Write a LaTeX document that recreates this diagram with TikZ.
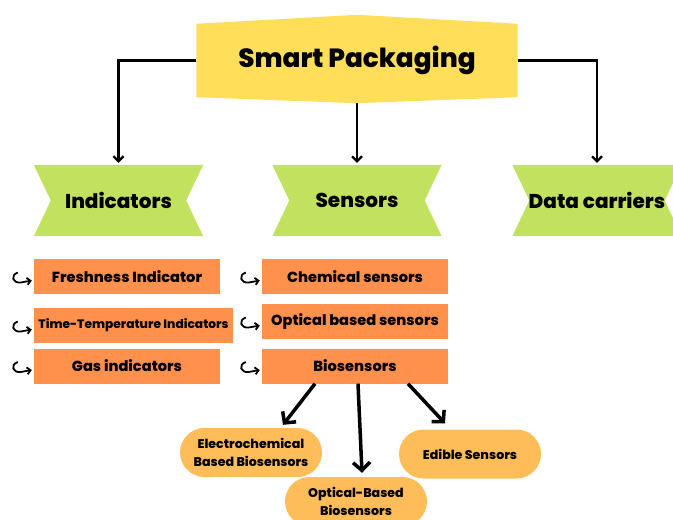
\documentclass[tikz,border=0pt]{standalone}
\usepackage{fontspec}
\setmainfont{Poppins}[BoldFont={Poppins ExtraBold}]
\usetikzlibrary{arrows.meta,backgrounds,shapes.misc}

\definecolor{topyellow}{HTML}{FFDE59}
\definecolor{ribbongreen}{HTML}{C1E15F}
\definecolor{itemorange}{HTML}{FF914D}
\definecolor{leaforange}{HTML}{FFBD59}

\tikzset{
    title/.style={minimum width=321pt,minimum height=73pt,inner sep=0pt,
        font=\bfseries\fontsize{26.3}{31}\selectfont},
    ribbon/.style={minimum width=169pt,minimum height=71pt,inner sep=0pt,
        font=\bfseries\fontsize{20}{24}\selectfont},
    item/.style={fill=itemorange,minimum width=186pt,minimum height=35pt,inner sep=0pt,
        font=\bfseries\fontsize{14.6}{17}\selectfont},
    leaf/.style={rounded rectangle,fill=leaforange,minimum width=142pt,minimum height=49pt,
        inner sep=0pt,align=center,font=\bfseries\fontsize{12.6}{17.5}\selectfont},
    link/.style={line width=2.2pt,-{Straight Barb[length=5pt,width=10pt]},shorten >=2pt},
    branch/.style={line width=3.5pt,-{Straight Barb[length=8pt,width=17pt]}},
    hook/.style={line width=1.8pt,-{Straight Barb[length=3.5pt,width=7pt]}}
}

\begin{document}
\begin{tikzpicture}[x=1pt,y=-1pt]
    \useasboundingbox (0,0) rectangle (673,520);

    \node[title] (sp) at (357,60.5) {Smart Packaging};
    \node[ribbon] (ind) at (118.5,200.5) {Indicators};
    \node[ribbon] (sen) at (357,200.5) {Sensors};
    \node[ribbon] (dat) at (597,200.5) {Data carriers};

    \node[item] (fi) at (127,276.5) {Freshness Indicator};
    \node[item,minimum width=199pt,font=\bfseries\fontsize{12.2}{15}\selectfont] (tt) at (133.5,325.5) {Time-Temperature Indicators};
    \node[item] (gi) at (127,366) {Gas indicators};
    \node[item] (cs) at (355,276.5) {Chemical sensors};
    \node[item] (ob) at (355,321.5) {Optical based sensors};
    \node[item] (bio) at (355,366) {Biosensors};

    \node[leaf] (elc) at (251,452.5) {Electrochemical\\Based Biosensors};
    \node[leaf] (opt) at (356,501.5) {Optical-Based\\Biosensors};
    \node[leaf] (edi) at (470,454) {Edible Sensors};

    \begin{pgfonlayer}{background}
        \fill[topyellow] (sp.north west) -- ([yshift=9pt]sp.north) -- (sp.north east)
            -- (sp.south east) -- ([yshift=-6pt]sp.south) -- (sp.south west) -- cycle;
        \foreach \n in {ind,sen,dat}
            \fill[ribbongreen] (\n.north west) -- (\n.north east) -- ([xshift=-17pt]\n.east)
                -- (\n.south east) -- (\n.south west) -- ([xshift=17pt]\n.west) -- cycle;
    \end{pgfonlayer}

    \draw[link] (sp.west) -| (ind.north);
    \draw[link] ([yshift=-6pt]sp.south) -- (sen.north);
    \draw[link] (sp.east) -| (dat.north);

    % little hooked arrows in front of every list entry
    \foreach \n in {fi,tt,gi,cs,ob,bio}
        \draw[hook] ([xshift=-16pt,yshift=4pt]\n.west)
            .. controls ([xshift=-24pt,yshift=1pt]\n.west) and ([xshift=-21pt,yshift=-7pt]\n.west)
            .. ([xshift=-13pt,yshift=-6pt]\n.west) -- ([xshift=-2pt,yshift=-4pt]\n.west);

    \draw[branch] ([xshift=-40pt]bio.south) -- ([xshift=32pt,yshift=3pt]elc.north);
    \draw[branch] ([xshift=3pt]bio.south) -- ([xshift=6pt,yshift=4pt]opt.north);
    \draw[branch] ([xshift=53pt]bio.south) -- ([xshift=-25pt,yshift=6pt]edi.north);
\end{tikzpicture}
\end{document}
